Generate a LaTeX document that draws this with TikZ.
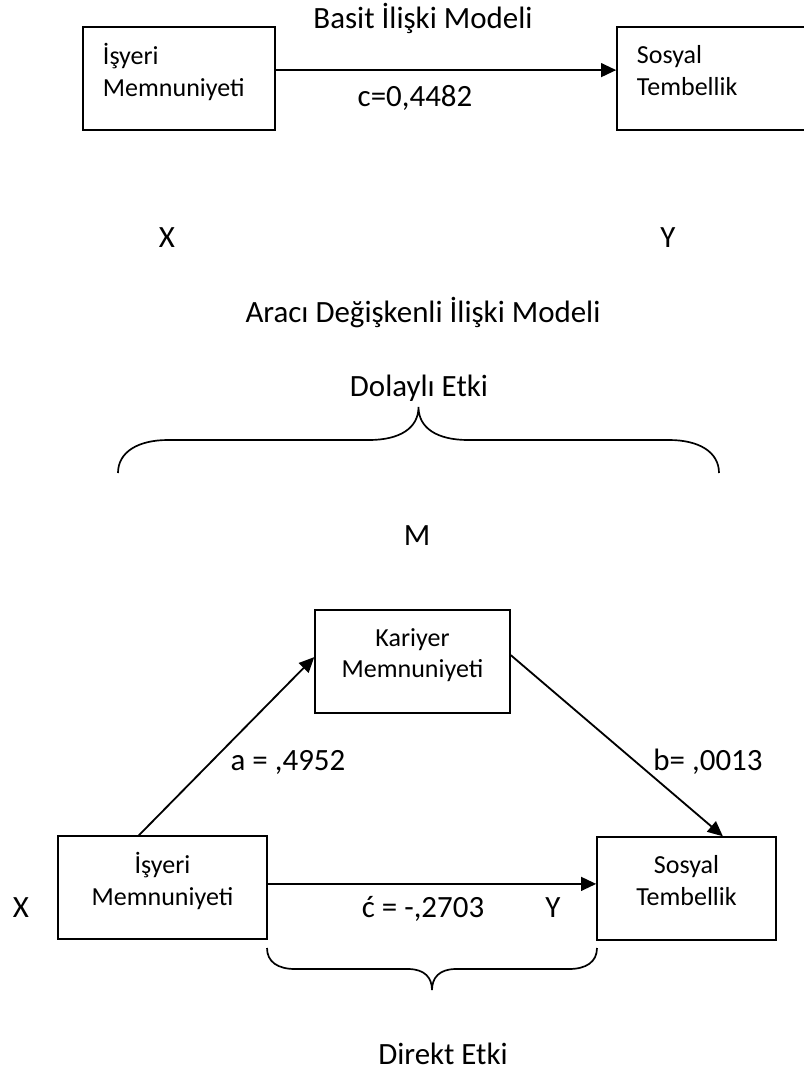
\documentclass[tikz,border=0pt]{standalone}
\usepackage{fontspec}
\setmainfont{Carlito}
\usetikzlibrary{arrows.meta}
\newcommand{\boxfont}{\fontsize{18.5}{22.7}\selectfont}
\newcommand{\lblfont}{\fontsize{22}{26}\selectfont}

\begin{document}
\begin{tikzpicture}[
  x=0.025cm, y=-0.025cm,
  box/.style={draw, line width=1pt, align=center, minimum height=2.575cm,
    font=\boxfont, execute at end node={\rule[-12pt]{0pt}{0pt}}},
  lbox/.style={box, align=left, text width=3.8cm, inner xsep=0.5cm},
  lbl/.style={font=\lblfont, anchor=base, inner sep=0pt},
  arr/.style={-{Triangle[length=0.38cm,width=0.34cm]}, line width=1.8pt},
  brace/.style={line width=1.2pt}
]
\useasboundingbox (0,0) rectangle (803,1072);

% basit model
\node[lbl] (basit) at (423,28) {Basit İlişki Modeli};
\node[lbox] (isX) at (179,78.5) {İşyeri\\Memnuniyeti};
\node[lbox] (stY) at (713,78.5) {Sosyal\\Tembellik};
\node[lbl] (c) at (415,106) {c=0,4482};
\node[lbl] (x1) at (167,247) {X};
\node[lbl] (y1) at (668,247) {Y};
\draw[arr] ([yshift=0.21cm]isX.east) -- ([yshift=0.21cm]stY.west);

% aracı değişkenli model
\node[lbl] (araci) at (423,322) {Aracı Değişkenli İlişki Modeli};
\node[lbl] (dolayli) at (419,396) {Dolaylı Etki};
\draw[brace] (118,473) .. controls (118,452) and (138,440) .. (168,440) -- (369,440)
  .. controls (400,440) and (418.5,428) .. (418.5,407)
  .. controls (418.5,428) and (437,440) .. (468,440) -- (669,440)
  .. controls (699,440) and (719,452) .. (719,473);
\node[lbl] (m) at (417,545) {M};
\node[box, minimum width=4.875cm] (kar) at (412.5,661.5) {Kariyer\\Memnuniyeti};
\node[box, minimum width=5.225cm] (isX2) at (162.5,887.5) {İşyeri\\Memnuniyeti};
\node[box, minimum width=4.475cm] (stY2) at (686.5,888.5) {Sosyal\\Tembellik};
\node[lbl] (a) at (288,770) {a = ,4952};
\node[lbl] (b) at (708,770) {b= ,0013};
\node[lbl] (x2) at (21,917) {X};
\node[lbl] (cp) at (423,917) {ć = -,2703};
\node[lbl] (y2) at (553,917) {Y};
\draw[arr, line width=1.3pt] ([xshift=-0.59cm]isX2.north) -- ([yshift=0.11cm]kar.west);
\draw[arr, line width=1.3pt] ([yshift=0.16cm]kar.east) -- ([xshift=0.91cm]stY2.north);
\draw[arr] ([yshift=0.09cm]isX2.east) -- ([yshift=0.09cm]isX2.east -| stY2.west);
\draw[brace] (267,948) .. controls (267,962) and (278,969) .. (295,969) -- (408,969)
  .. controls (425,969) and (432,978) .. (432,990)
  .. controls (432,978) and (439,969) .. (456,969) -- (569,969)
  .. controls (586,969) and (597,962) .. (597,948);
\node[lbl] (direkt) at (443,1064) {Direkt Etki};
\end{tikzpicture}
\end{document}
